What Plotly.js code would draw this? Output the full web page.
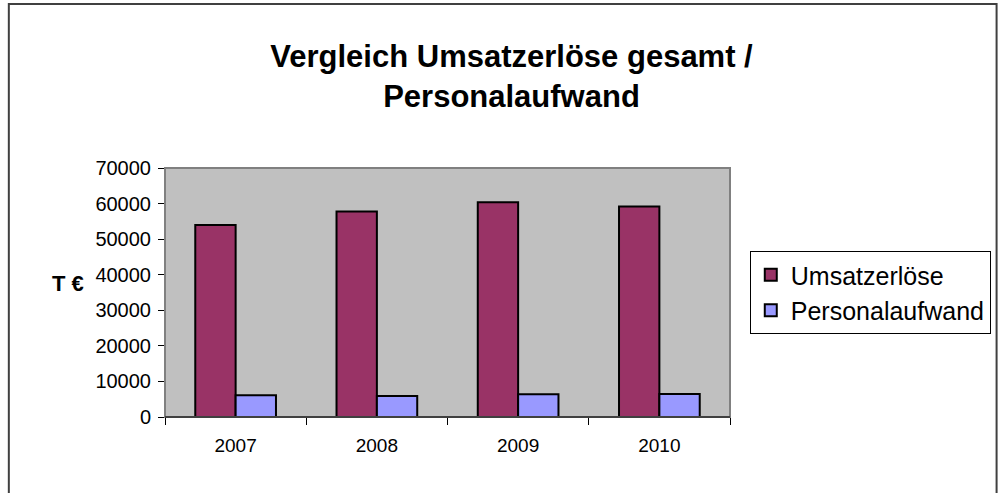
<!DOCTYPE html>
<html>
<head>
<meta charset="utf-8">
<script src="https://cdn.plot.ly/plotly-3.0.1.min.js"></script>
<style>html,body{margin:0;padding:0;background:#fff;}#chart{width:1003px;height:493px;}</style>
</head>
<body>
<div id="chart"></div>
<script>
const years = ["2007", "2008", "2009", "2010"];
const umsatzerloese = [54000, 57800, 60400, 59200];
const personalaufwand = [6100, 5900, 6400, 6500];
const seriesNames = ["Umsatzerlöse", "Personalaufwand"];
const yTicks = [0, 10000, 20000, 30000, 40000, 50000, 60000, 70000];

const fontFam = "Liberation Sans, Arial, sans-serif";

const traces = [
  {type: "bar", name: seriesNames[0], x: years, y: umsatzerloese,
   marker: {color: "#993366", line: {color: "#000000", width: 2}}},
  {type: "bar", name: seriesNames[1], x: years, y: personalaufwand,
   marker: {color: "#9999ff", line: {color: "#000000", width: 2}}}
];

const layout = {
  width: 1003, height: 493,
  margin: {l: 165, r: 270, t: 168, b: 76, pad: 0},
  paper_bgcolor: "#ffffff",
  plot_bgcolor: "#c0c0c0",
  font: {family: fontFam, color: "#000000", size: 16},
  title: {text: "<b>Vergleich Umsatzerlöse gesamt /<br>Personalaufwand</b>",
          font: {family: fontFam, size: 31, color: "#000"},
          x: 0.51, xanchor: "center", y: 0.864, yanchor: "middle"},
  barmode: "group",
  bargap: 0.4286,
  bargroupgap: 0,
  showlegend: true,
  legend: {x: 1.035, xanchor: "left", y: 0.5, yanchor: "middle",
           bordercolor: "#000000", borderwidth: 1, bgcolor: "#ffffff",
           font: {family: fontFam, size: 25}, tracegroupgap: 2,
           itemwidth: 30},
  xaxis: {type: "category", showgrid: false, zeroline: false,
          showline: true, linecolor: "#000", linewidth: 1,
          ticks: "outside", tickson: "boundaries", ticklen: 7, tickcolor: "#000",
          ticklabelstandoff: 11,
          tickfont: {family: fontFam, size: 19}},
  yaxis: {range: [0, 70000], tickvals: yTicks, ticktext: yTicks.map(String),
          showgrid: false, zeroline: false,
          showline: true, linecolor: "#000", linewidth: 1,
          ticks: "outside", ticklen: 6, tickcolor: "#000",
          ticklabelstandoff: 3,
          tickfont: {family: fontFam, size: 20}},
  shapes: [
    {type: "rect", xref: "paper", yref: "paper", x0: 0, x1: 1, y0: 0, y1: 1,
     line: {color: "#808080", width: 2}, layer: "above"},
    {type: "line", xref: "paper", yref: "paper", x0: 0, x1: 1, y0: 0, y1: 0,
     line: {color: "#000", width: 1}, layer: "above"},
    {type: "path", xref: "paper", yref: "paper",
     path: "M " + ((8-165)/568) + " " + ((417-520)/249) + " L " + ((8-165)/568) + " " + ((417-4)/249) +
           " L " + ((1001-165)/568) + " " + ((417-4)/249) + " L " + ((1001-165)/568) + " " + ((417-520)/249),
     line: {color: "#404040", width: 2}}
  ],
  annotations: [
    {text: "<b>T €</b>", xref: "paper", yref: "paper",
     x: (67-165)/568, y: (417-283)/249, xanchor: "center", yanchor: "middle",
     showarrow: false, font: {family: fontFam, size: 22, color: "#000"}}
  ]
};

Plotly.newPlot("chart", traces, layout, {displayModeBar: false, staticPlot: true});
</script>
</body>
</html>
